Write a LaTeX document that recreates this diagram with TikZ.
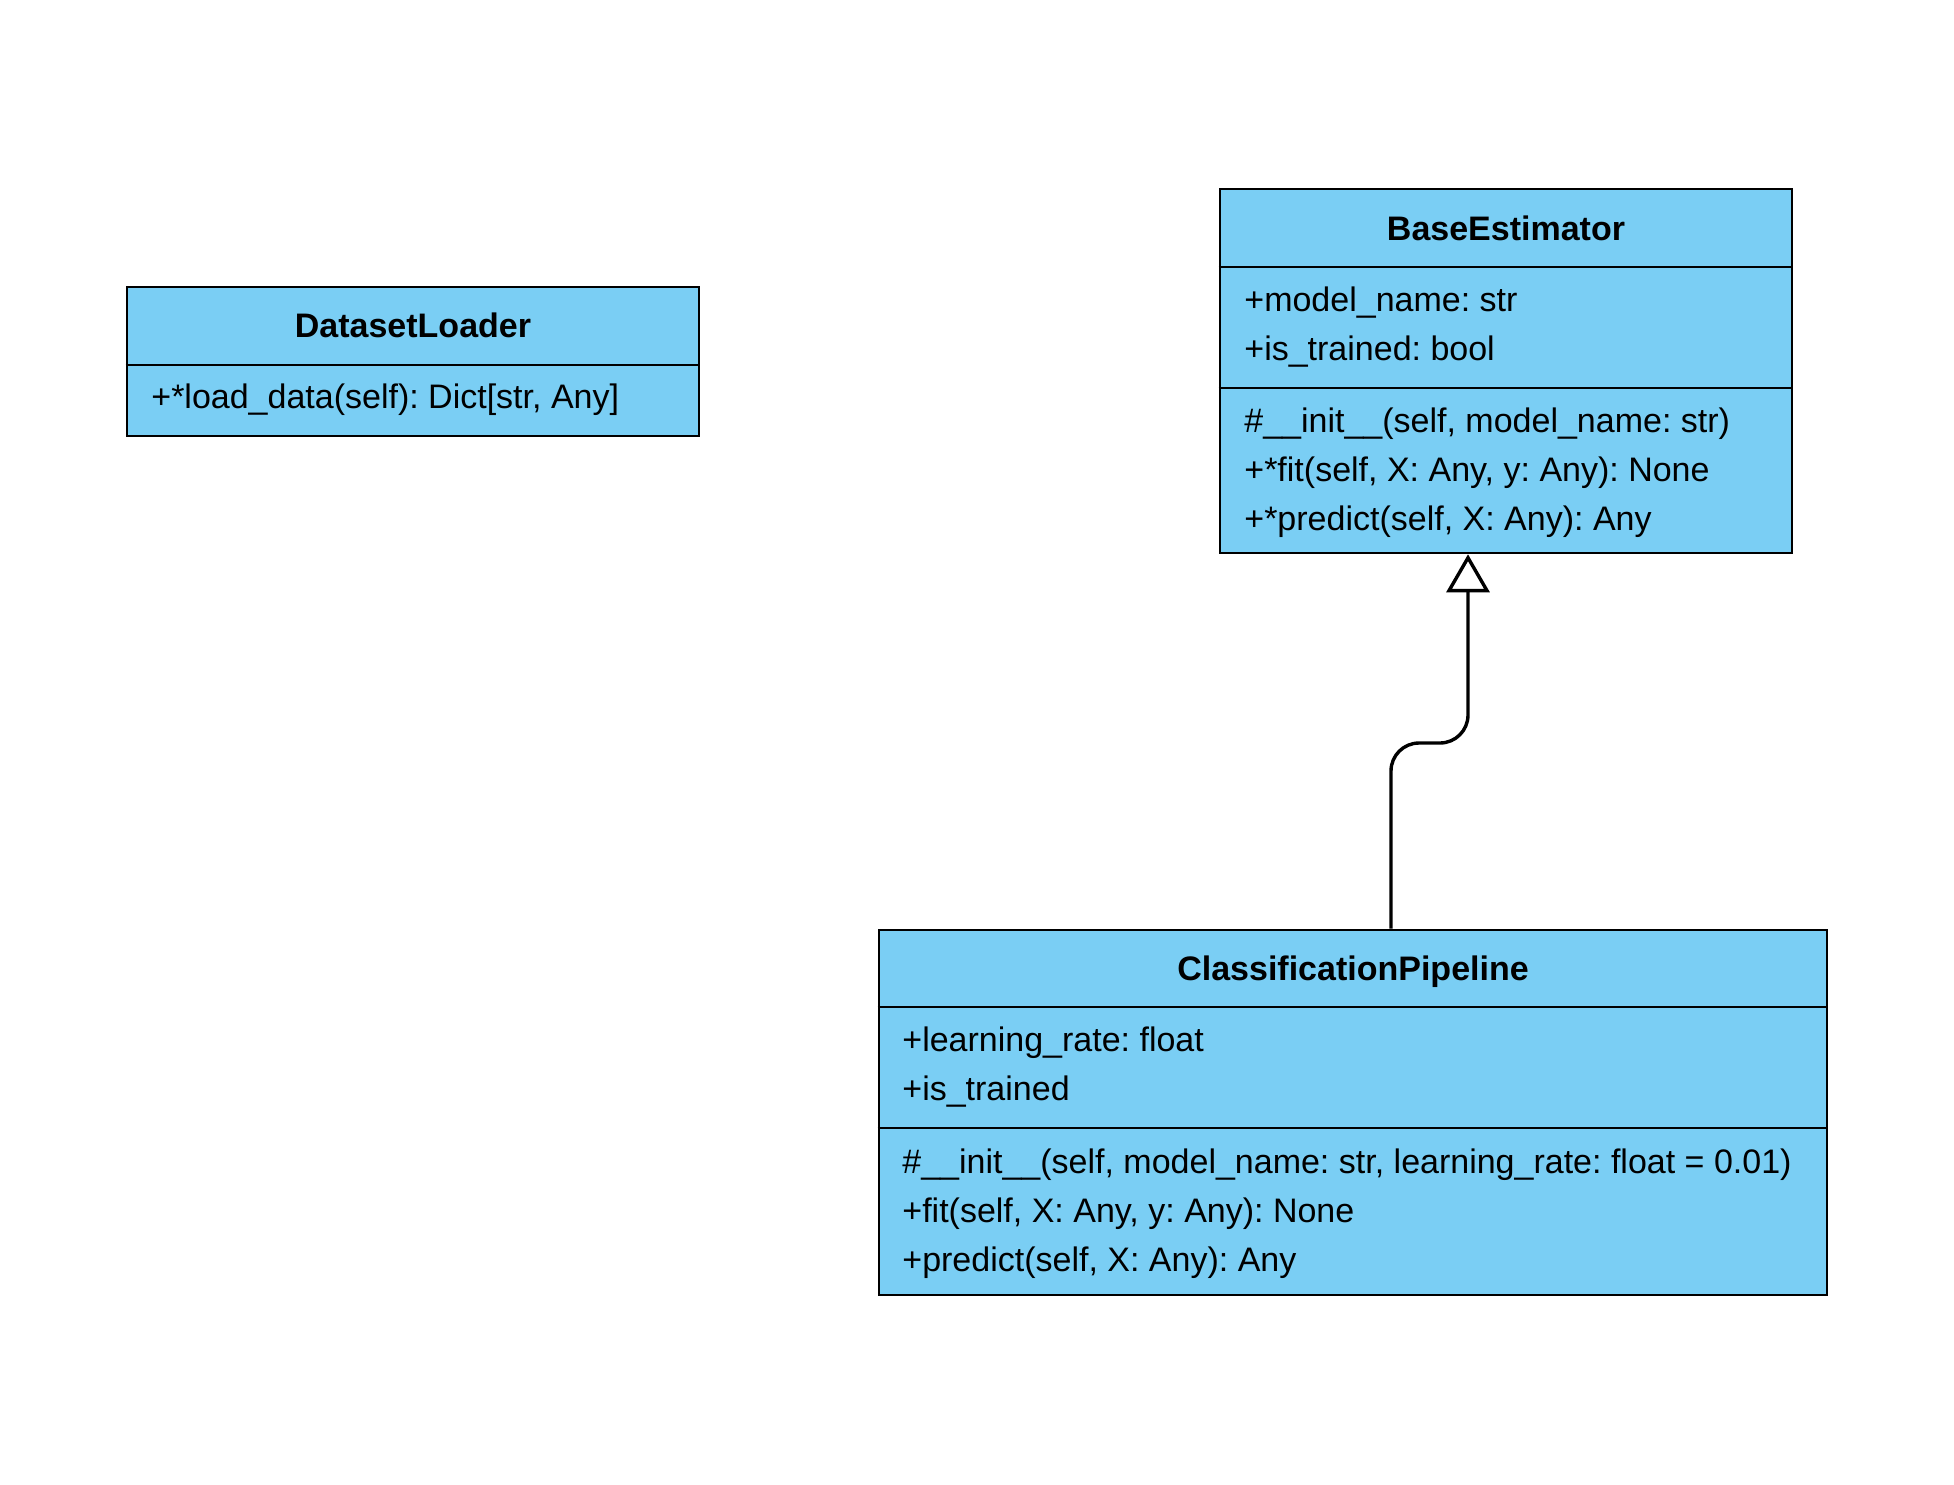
\documentclass[tikz,border=0pt]{standalone}
\usepackage{fontspec}
\setmainfont{Liberation Sans}
\usepackage{tikz}
\usetikzlibrary{arrows.meta,fit}
\definecolor{classfill}{HTML}{7ACEF4}
\frenchspacing
\tikzset{classbox/.style={draw=black,fill=classfill,line width=1.3pt,inner sep=0pt},classname/.style={anchor=base,font=\fontsize{17}{20}\selectfont\bfseries,inner sep=0pt},member/.style={anchor=base west,font=\fontsize{17}{20}\selectfont,inner sep=0pt},divider/.style={draw=black,line width=1.3pt},inherit edge/.style={-{Triangle[open,length=19pt,width=21.5pt]},line width=1.7pt,rounded corners=14pt}}

\begin{document}
\begin{tikzpicture}[x=0.5pt,y=-0.5pt]
 \path[fill=white] (0,0) rectangle (1954,1484);
 % class boxes
 \node[classbox,fit={(127,287)(699,436)}] (loader) {};
 \node[classbox,fit={(1220,189)(1792,553)}] (base) {};
 \node[classbox,fit={(879,930)(1827,1295)}] (pipe) {};
 \node[classname] (loadertitle) at (loader.north |- 0,337) {DatasetLoader};
 \node[classname] (basetitle) at (base.north |- 0,240) {BaseEstimator};
 \node[classname] (pipetitle) at (pipe.north |- 0,980) {ClassificationPipeline};
 \foreach \b/\yy in {loader/365,base/267,base/388,pipe/1007,pipe/1128}
   \draw[divider] (\b.west |- 0,\yy)--(\b.east |- 0,\yy);
 % members
 \node[member] (loaderm1) at (151,408) {+*load\_data(self): Dict[str, Any]};
 \foreach \i/\yy/\txt in {1/311/{+model\_name: str},2/360/{+is\_trained: bool},3/432/{\#\_\_init\_\_(self, model\_name: str)},4/481/{+*fit(self, X: Any, y: Any): None},5/530/{+*predict(self, X: Any): Any}}
   \node[member] (basem\i) at (1244,\yy) {\txt};
 \foreach \i/\yy/\txt in {1/1051/{+learning\_rate: float},2/1100/{+is\_trained},3/1173/{\#\_\_init\_\_(self, model\_name: str, learning\_rate: float = 0.01)},4/1222/{+fit(self, X: Any, y: Any): None},5/1271/{+predict(self, X: Any): Any}}
   \node[member] (pipem\i) at (902,\yy) {\txt};
 % inheritance
 \draw[inherit edge] ([xshift=19pt]pipe.north)--([xshift=19pt]pipe.north |- 0,743)--([xshift=-19pt]base.south |- 0,743)--([xshift=-19pt]base.south);
\end{tikzpicture}
\end{document}
